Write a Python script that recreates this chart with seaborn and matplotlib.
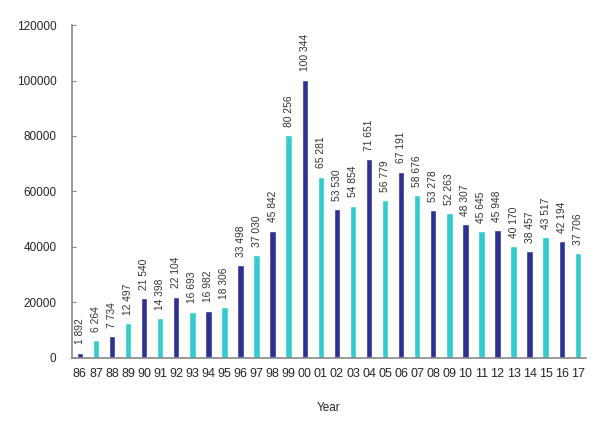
import numpy as np
import pandas as pd
import matplotlib
matplotlib.use('Agg')
import matplotlib.pyplot as plt
import seaborn as sns

years = ['86', '87', '88', '89', '90', '91', '92', '93', '94', '95', '96', '97',
         '98', '99', '00', '01', '02', '03', '04', '05', '06', '07', '08', '09',
         '10', '11', '12', '13', '14', '15', '16', '17']
values = [1892, 6264, 7734, 12497, 21540, 14398, 22104, 16693, 16982, 18306,
          33498, 37030, 45842, 80256, 100344, 65281, 53530, 54854, 71651, 56779,
          67191, 58676, 53278, 52263, 48307, 45645, 45948, 40170, 38457, 43517,
          42194, 37706]
dark = '#2E3192'
cyan = '#33CCCC'
bar_colors = [dark if i % 2 == 0 else cyan for i in range(len(years))]

df = pd.DataFrame({'year': years, 'value': values})

sns.set_style('white')
plt.rcParams['font.family'] = ['Liberation Sans', 'DejaVu Sans']

fig = plt.figure(figsize=(5.99, 4.25), dpi=100)
ax = fig.add_axes([0.120, 0.158, 0.858, 0.783])

sns.barplot(data=df, x='year', y='value', hue='year', palette=bar_colors,
            order=years, hue_order=years, legend=False, width=0.4,
            saturation=1, ax=ax)

for i, v in enumerate(values):
    ax.annotate(f"{v:,}".replace(',', ' '), (i, v), xytext=(0, 6),
                textcoords='offset points', rotation=90, ha='center',
                va='bottom', fontsize=7.4, color='#333333')

ax.set_xlim(-0.5, len(years) - 0.5)
ax.set_ylim(0, 120000)
ax.set_yticks(range(0, 120001, 20000))
ax.set_xlabel('Year', fontsize=8.5, labelpad=16)
ax.set_ylabel('')

for side in ['top', 'right']:
    ax.spines[side].set_visible(False)
for side in ['left', 'bottom']:
    ax.spines[side].set_color('#888888')
    ax.spines[side].set_linewidth(1.2)

ax.tick_params(axis='y', direction='in', length=3, color='#888888',
               labelsize=8.5, pad=11, left=True)
ax.tick_params(axis='x', length=0, labelsize=9, pad=7)

fig.savefig('out.png', dpi=100)
